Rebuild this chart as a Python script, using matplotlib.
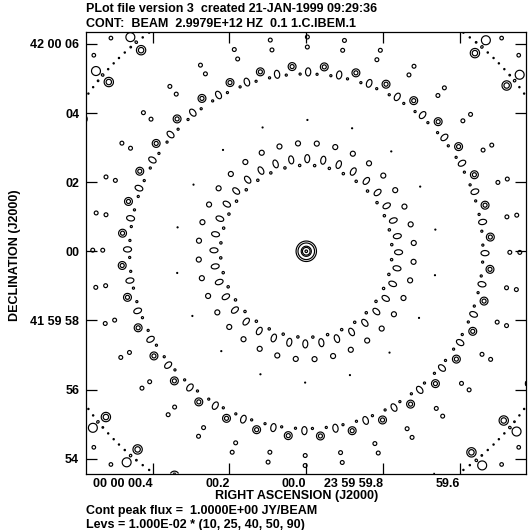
import numpy as np
import matplotlib
matplotlib.use("Agg")
import matplotlib.pyplot as plt
from matplotlib.transforms import blended_transform_factory

# ---------------- texts ----------------
title_line1 = "PLot file version 3  created 21-JAN-1999 09:29:36"
title_line2 = "CONT:  BEAM  2.9979E+12 HZ  0.1 1.C.IBEM.1"
x_title = "RIGHT ASCENSION (J2000)"
y_title = "DECLINATION (J2000)"
foot_line1 = "Cont peak flux =  1.0000E+00 JY/BEAM"
foot_line2 = "Levs = 1.000E-02 * (10, 25, 40, 50, 90)"

# ---------------- data ----------------
peak_flux = 1.0
level_unit = 1.0e-2
level_multipliers = [10, 25, 40, 50, 90]

dec_deg = 42.0
ra_tick_sec = [0.4, 0.2, 0.0, -0.2, -0.4]
ra_tick_labels = ["00 00 00.4", "00.2", "00.0", "23 59 59.8", "59.6"]
dec_tick_arcsec = [6, 4, 2, 0, -2, -4, -6]
dec_tick_labels = ["42 00 06", "04", "02", "00", "41 59 58", "56", "54"]

# field of view (arcsec offsets from the phase centre)
ra_left, ra_right = 6.41, -6.38
dec_bottom, dec_top = -6.43, 6.33

# main lobe (core + shoulder)
core_peak = 0.64
core_sigma = 0.064
shoulder_peak = 0.36
shoulder_radius = 0.284

# sidelobe rings: radius (arcsec), first angle (deg), angular step (deg),
# peak, radial width, tangential width (arcsec)
ring_radius = [2.49, 2.68, 3.13, 3.80, 5.13, 5.13, 5.19, 5.36, 5.91, 6.20,
               7.54, 7.80, 7.80, 7.80, 7.80, 7.80, 7.80, 8.03, 8.38, 8.38]
ring_angle0 = [4.4, -0.6, 4.4, 9.5, 2.0, 6.5, -0.6, 4.4, -0.3, -0.3,
               -0.5, 0.8, 2.5, 4.2, 5.8, 7.5, 9.2, -0.5, 2.6, 7.4]
ring_step = [10, 10, 10, 20, 10, 10, 10, 10, 10, 10,
             10, 10, 10, 10, 10, 10, 10, 10, 10, 10]
ring_peak = [0.12, 0.20, 0.18, 0.11, 0.12, 0.12, 0.20, 0.35, 0.16, 0.16,
             0.40, 0.115, 0.115, 0.115, 0.115, 0.115, 0.115, 0.20, 0.15, 0.15]
ring_sig_r = [0.058, 0.099, 0.067, 0.038, 0.052, 0.052, 0.099, 0.072, 0.058, 0.058,
              0.081, 0.038, 0.038, 0.038, 0.038, 0.038, 0.038, 0.110, 0.058, 0.058]
ring_sig_t = [0.058, 0.061, 0.067, 0.038, 0.052, 0.052, 0.064, 0.072, 0.058, 0.058,
              0.081, 0.038, 0.038, 0.038, 0.038, 0.038, 0.038, 0.110, 0.058, 0.058]

# ---------------- build the beam image ----------------
n = 900
xs = np.linspace(ra_right, ra_left, n)
ys = np.linspace(dec_bottom, dec_top, n)
X, Y = np.meshgrid(xs, ys)
R2 = X ** 2 + Y ** 2
Z = core_peak * np.exp(-R2 / (2 * core_sigma ** 2)) \
    + shoulder_peak * np.exp(-(np.sqrt(R2) / shoulder_radius) ** 6)

dxg = xs[1] - xs[0]
dyg = ys[1] - ys[0]
for r, a0, st, pk, sr, stt in zip(ring_radius, ring_angle0, ring_step,
                                  ring_peak, ring_sig_r, ring_sig_t):
    for ang in np.arange(a0, a0 + 360, st):
        th = np.deg2rad(ang)
        cx = -r * np.cos(th)
        cy = r * np.sin(th)
        w = 5 * max(sr, stt)
        if cx + w < ra_right or cx - w > ra_left or cy + w < dec_bottom or cy - w > dec_top:
            continue
        i0 = max(int((cx - w - xs[0]) / dxg), 0)
        i1 = min(int((cx + w - xs[0]) / dxg) + 2, n)
        j0 = max(int((cy - w - ys[0]) / dyg), 0)
        j1 = min(int((cy + w - ys[0]) / dyg) + 2, n)
        sx = X[j0:j1, i0:i1] - cx
        sy = Y[j0:j1, i0:i1] - cy
        ux, uy = cx / r, cy / r
        dr = sx * ux + sy * uy
        dt = -sx * uy + sy * ux
        Z[j0:j1, i0:i1] += pk * np.exp(-0.5 * (dr / sr) ** 2 - 0.5 * (dt / stt) ** 2)

levels = [m * level_unit * peak_flux for m in level_multipliers]

# ---------------- figure ----------------
plt.rcParams["font.family"] = ["Liberation Sans", "DejaVu Sans"]
plt.rcParams["font.weight"] = "bold"
W, H = 529, 530
fig = plt.figure(figsize=(W / 100, H / 100), dpi=100)
ax_l, ax_r, ax_t, ax_b = 85.5, 526, 32.5, 473.5
ax = fig.add_axes([ax_l / W, 1 - ax_b / H, (ax_r - ax_l) / W, (ax_b - ax_t) / H])

ax.contour(X, Y, Z, levels=levels, colors="black", linewidths=0.85)
ax.set_xlim(ra_left, ra_right)
ax.set_ylim(dec_bottom, dec_top)

cosd = np.cos(np.deg2rad(dec_deg))
ra_tick_arcsec = [s * 15 * cosd for s in ra_tick_sec]
ax.set_xticks(ra_tick_arcsec)
ax.set_xticklabels([])
ax.set_yticks(dec_tick_arcsec)
fs = 9.0
ax.set_yticklabels(dec_tick_labels, fontweight="bold")
ax.tick_params(direction="in", length=8, width=0.9, top=True, right=True,
               labelsize=fs, pad=4.5, color="black")
for sp in ax.spines.values():
    sp.set_linewidth(0.9)

trans = blended_transform_factory(ax.transData, fig.transFigure)
for xv, lab in zip(ra_tick_arcsec, ra_tick_labels):
    ax.text(xv, 1 - 486.7 / H, lab, transform=trans, ha="right",
            va="baseline", fontsize=fs)

fig.text(86 / W, 1 - 12.3 / H, title_line1, fontsize=fs, va="baseline", ha="left")
fig.text(86 / W, 1 - 26.7 / H, title_line2, fontsize=fs, va="baseline", ha="left")
fig.text(297 / W, 1 - 499.3 / H, x_title, fontsize=fs, va="baseline", ha="center")
fig.text(86 / W, 1 - 514.3 / H, foot_line1, fontsize=fs, va="baseline", ha="left")
fig.text(86 / W, 1 - 528.3 / H, foot_line2, fontsize=fs, va="baseline", ha="left")
fig.text(15 / W, 1 - 255 / H, y_title, fontsize=fs, rotation=90,
         va="center", ha="center")

fig.savefig("out.png", dpi=100)
